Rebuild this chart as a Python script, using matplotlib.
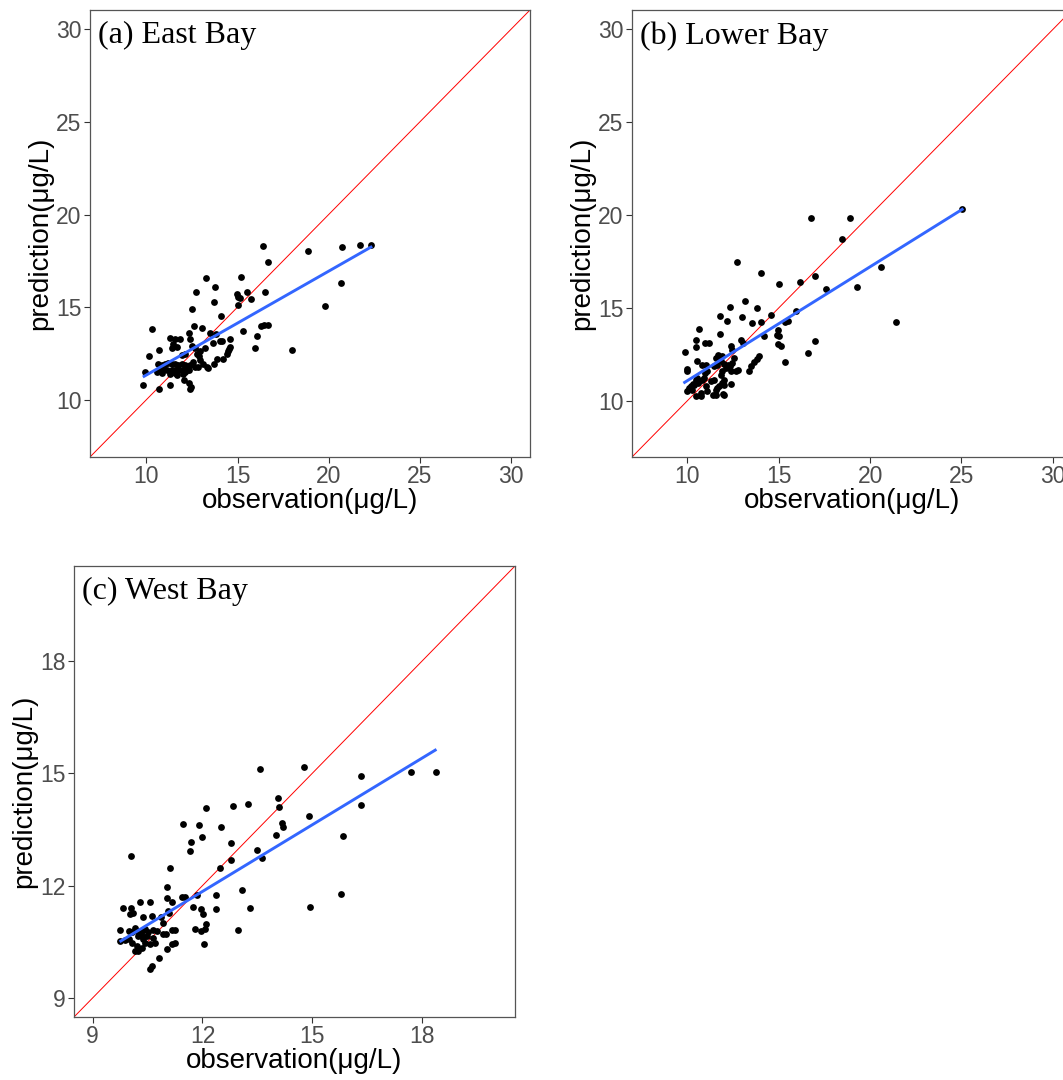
import matplotlib
matplotlib.use('Agg')
import matplotlib.pyplot as plt
import numpy as np

# ---- data ----
# (a) East Bay
east_obs = [22.32, 21.7, 20.73, 18.85, 16.37, 16.65, 20.65, 19.8, 18.0, 15.18, 13.24, 13.75,
            12.71, 16.48, 15.52, 14.99, 15.02, 15.16, 15.76, 13.73, 15.0, 12.48, 14.08, 15.29,
            10.28, 12.63, 13.07, 13.49, 13.81, 12.35, 11.29, 11.56, 11.84, 11.47, 11.38, 11.69,
            12.39, 12.52, 12.66, 10.70, 10.16, 11.93, 12.11, 12.79, 12.94, 13.21, 13.63, 14.03,
            14.16, 14.58, 14.58, 14.49, 14.55, 14.44, 15.96, 16.05, 16.27, 16.45, 16.69, 12.9,
            12.94, 13.12, 13.30, 13.39, 13.71, 13.85, 14.18, 12.57, 12.39, 12.66, 12.84,
            10.65, 10.83, 11.01, 11.2, 11.38, 11.56, 11.75, 11.93, 12.11, 10.74, 10.96, 11.14,
            11.38, 11.62, 11.8, 12.02, 12.24, 10.56, 10.83, 11.29, 11.56, 11.69, 11.98, 12.11,
            9.9, 12.35, 9.83, 10.7, 11.29, 12.08, 12.35, 12.42, 12.39]
east_pred = [18.35, 18.35, 18.24, 18.02, 18.29, 17.46, 16.28, 15.05, 12.70, 16.62, 16.56, 16.06,
             15.83, 15.83, 15.83, 15.72, 15.52, 15.5, 15.43, 15.29, 15.11, 14.89, 14.5, 13.7,
             13.84, 14.0, 13.89, 13.62, 13.57, 13.62, 13.35, 13.25, 13.25, 13.0, 12.79, 12.85,
             13.25, 12.88, 12.81, 12.70, 12.36, 12.43, 12.49, 12.49, 12.63, 12.81, 13.07, 13.17,
             13.17, 13.25, 12.85, 12.63, 12.72, 12.49, 12.81, 13.43, 13.97, 14.02, 14.02, 12.36,
             12.16, 11.95, 11.77, 11.71, 11.91, 12.18, 12.22, 12.04, 11.86, 11.77, 11.77,
             11.95, 11.86, 11.95, 11.98, 11.91, 11.95, 11.86, 11.95, 11.86, 11.62, 11.68, 11.59,
             11.62, 11.59, 11.62, 11.59, 11.62, 11.5, 11.44, 11.41, 11.44, 11.32, 11.41, 11.5,
             11.5, 11.62, 10.78, 10.6, 10.78, 11.05, 10.9, 10.69, 10.56]
east_fit_x = [9.87, 22.32]
east_fit_y = [11.26, 18.24]

# (b) Lower Bay
lower_obs = [25.04, 16.77, 18.88, 18.44, 20.58, 12.7, 16.99, 14.02, 16.14, 15.01, 17.57, 19.26,
             13.15, 12.31, 13.8, 14.55, 12.99, 11.8, 12.18, 15.96, 21.44, 16.99, 13.56, 14.02,
             15.37, 15.5, 14.18, 14.9, 14.95, 15.15, 16.6, 15.32,
             9.85, 10.64, 10.49, 10.49, 10.95, 11.2, 11.79, 12.38, 12.44, 12.93, 13.02,
             14.95, 15.0, 13.63, 13.48, 13.39, 13.81, 13.94,
             9.99, 10.09, 9.99, 10.18, 10.27, 10.36, 10.45, 10.55, 10.64, 10.82, 10.91, 11.28,
             11.46, 11.0, 10.73, 11.1, 11.55, 11.74, 11.92, 12.01, 12.38, 11.55, 12.01, 10.45,
             10.51, 10.82, 11.0, 10.95, 11.1, 11.46, 11.61, 11.83, 11.55, 11.65, 11.92, 12.01,
             12.1, 12.2, 12.34, 12.38, 12.47, 12.56, 12.65, 12.75, 11.92, 11.83, 12.01,
             11.43, 11.96, 11.6, 10.75, 10.0, 10.3, 10.6]
lower_pred = [20.31, 19.86, 19.86, 18.69, 17.23, 17.46, 16.73, 16.89, 16.38, 16.28, 16.01, 16.12,
              15.38, 15.05, 14.98, 14.6, 14.5, 14.55, 14.32, 14.82, 14.26, 13.2, 14.21, 14.26,
              14.23, 14.28, 13.49, 13.54, 13.06, 12.97, 12.59, 12.09,
              12.61, 13.84, 13.25, 12.88, 13.1, 13.1, 13.57, 12.94, 12.76, 13.25, 13.12,
              13.79, 13.48, 12.09, 11.86, 11.59, 12.27, 12.4,
              11.59, 10.69, 10.51, 10.78, 10.6, 10.87, 11.14, 11.23, 11.05, 11.14, 11.23, 11.05,
              11.14, 10.78, 10.42, 10.51, 10.6, 10.78, 10.96, 10.87, 10.9, 10.33, 10.33, 10.24,
              12.13, 11.95, 11.95, 11.5, 11.59, 11.86, 11.95, 12.13, 12.31, 12.45, 12.4, 11.98,
              11.77, 11.95, 11.86, 11.59, 12.04, 12.31, 11.59, 11.68, 11.59, 11.41, 11.14,
              10.29, 10.34, 10.67, 10.23, 11.71, 10.9, 10.95]
lower_fit_x = [9.85, 25.04]
lower_fit_y = [10.99, 20.31]

# (c) West Bay
west_obs = [18.38, 17.69, 16.33, 16.33, 14.78, 13.58, 14.07, 14.1, 13.24, 12.83, 12.1, 14.91,
            11.47, 11.91, 12.5, 14.17, 14.21, 14.02, 15.84, 11.99, 11.7, 12.79, 11.67, 13.48,
            13.64, 12.79, 10.05, 11.1, 12.47, 13.09, 15.79, 14.94, 13.3, 12.97,
            11.04, 11.04, 11.16, 10.28, 10.57, 9.84, 10.04, 10.11, 10.02, 10.38, 10.61, 10.88,
            11.07, 11.09, 10.93, 11.43, 11.52, 11.84, 11.73, 11.97, 12.02, 12.38, 12.38, 12.11,
            12.06, 11.97, 11.79, 12.04, 9.75, 9.98, 10.07, 10.16, 10.2, 10.34, 10.43, 10.52,
            10.64, 10.75, 10.93, 11.0, 11.16, 11.25, 9.75, 9.88, 9.98, 10.07, 10.25, 10.34,
            10.38, 10.48, 10.66, 10.7, 10.43, 10.2, 10.34, 10.57, 11.18, 11.25, 11.04, 10.25,
            10.16, 10.82, 10.61, 10.57]
west_pred = [15.03, 15.03, 14.94, 14.16, 15.16, 15.11, 14.35, 14.11, 14.19, 14.14, 14.08, 13.87,
             13.65, 13.63, 13.57, 13.68, 13.57, 13.35, 13.33, 13.29, 13.17, 13.15, 12.93, 12.95,
             12.74, 12.68, 12.79, 12.48, 12.48, 11.89, 11.78, 11.42, 11.39, 10.81,
             11.97, 11.66, 11.57, 11.57, 11.57, 11.4, 11.41, 11.28, 11.24, 11.15, 11.19, 11.15,
             11.32, 11.28, 10.99, 11.7, 11.7, 11.75, 11.43, 11.37, 11.24, 11.75, 11.37, 10.97,
             10.84, 10.79, 10.84, 10.45, 10.81, 10.79, 10.75, 10.88, 10.79, 10.79, 10.84, 10.75,
             10.81, 10.79, 10.70, 10.72, 10.81, 10.81, 10.52, 10.54, 10.57, 10.48, 10.66, 10.66,
             10.57, 10.66, 10.61, 10.48, 10.48, 10.39, 10.34, 10.43, 10.45, 10.48, 10.3, 10.26,
             10.26, 10.06, 9.86, 9.77]
west_fit_x = [9.77, 18.36]
west_fit_y = [10.52, 15.62]

titles = ['(a) East Bay', '(b) Lower Bay', '(c) West Bay']
ticks_ab = [10, 15, 20, 25, 30]
ticks_c = [9, 12, 15, 18]

W, H = 1063, 1080
fig = plt.figure(figsize=(W / 100, H / 100), dpi=100)

def px_rect(x0, y0, w, h):
    # pixel box (from top-left) -> figure fraction
    return [x0 / W, 1 - (y0 + h) / H, w / W, h / H]

panels = [
    (px_rect(90, 10, 440, 447), east_obs, east_pred, east_fit_x, east_fit_y, (6.9, 31.05), ticks_ab, titles[0]),
    (px_rect(632, 10, 440, 447), lower_obs, lower_pred, lower_fit_x, lower_fit_y, (6.97, 31.05), ticks_ab, titles[1]),
    (px_rect(74, 566, 441, 451), west_obs, west_pred, west_fit_x, west_fit_y, (8.49, 20.54), ticks_c, titles[2]),
]

for rect, obs, pred, fx, fy, lim, ticks, title in panels:
    ax = fig.add_axes(rect)
    ax.set_xlim(lim)
    ax.set_ylim(lim)
    ax.plot(lim, lim, color='#FF0000', lw=0.7, zorder=1)  # 1:1 line
    ax.scatter(obs, pred, s=24, color='black', linewidths=0, zorder=2)
    ax.plot(fx, fy, color='#3366FF', lw=2.1, zorder=3)
    ax.set_xticks(ticks)
    ax.set_yticks(ticks)
    ax.tick_params(length=4, width=0.8, color='#333333', labelcolor='#4D4D4D', labelsize=16.5, pad=2)
    for lab in ax.get_xticklabels() + ax.get_yticklabels():
        lab.set_fontfamily('Liberation Sans')
    for sp in ax.spines.values():
        sp.set_color('#555555')
        sp.set_linewidth(0.9)
    ax.set_xlabel('observation(μg/L)', fontsize=20, family='Liberation Sans', labelpad=0)
    ax.set_ylabel('prediction(μg/L)', fontsize=20, family='Liberation Sans', labelpad=2)
    ax.text(0.018, 0.975, title, transform=ax.transAxes, ha='left', va='top',
            fontsize=23, family='Liberation Serif')

fig.savefig('out.png', dpi=100)
